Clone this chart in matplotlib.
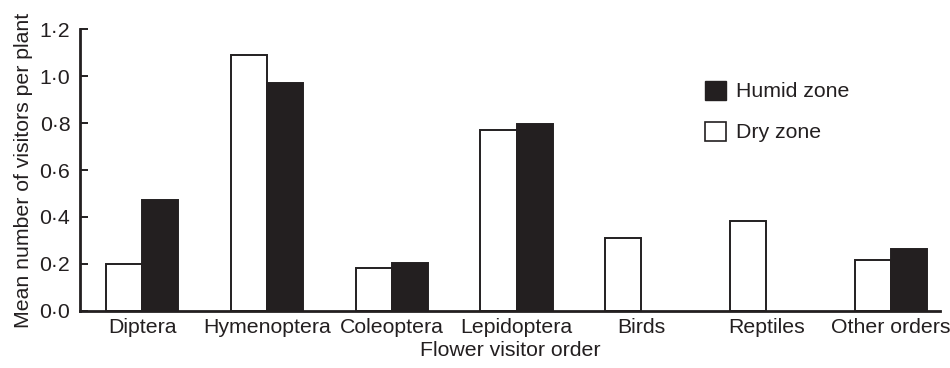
import matplotlib
matplotlib.use("Agg")
import matplotlib.pyplot as plt
from matplotlib.ticker import FuncFormatter, MultipleLocator
from matplotlib.patches import Patch
import numpy as np

categories = ["Diptera", "Hymenoptera", "Coleoptera", "Lepidoptera", "Birds", "Reptiles", "Other orders"]
dry_zone = [0.20, 1.09, 0.185, 0.77, 0.31, 0.383, 0.215]
humid_zone = [0.472, 0.972, 0.205, 0.795, 0.0, 0.0, 0.265]

plt.rcParams['font.family'] = ['Liberation Sans', 'DejaVu Sans']
ink = '#231f20'
fs = 15.3

fig = plt.figure(figsize=(9.5, 3.68), dpi=100)
ax = fig.add_axes([0.0842, 0.155, 0.905, 0.766])

x = np.arange(len(categories))
w = 0.29
for xi, d, h in zip(x, dry_zone, humid_zone):
    if d > 0:
        ax.bar(xi - w/2, d, w, facecolor='white', edgecolor=ink, linewidth=1.4)
    if h > 0:
        ax.bar(xi + w/2, h, w, facecolor=ink, edgecolor=ink, linewidth=1.4)

ax.set_xlim(-0.497, 6.39)
ax.set_ylim(0, 1.2)
ax.yaxis.set_major_locator(MultipleLocator(0.2))
ax.yaxis.set_major_formatter(FuncFormatter(lambda v, p: f"{v:.1f}".replace('.', '·')))
ax.set_xticks(x)
ax.set_xticklabels(categories)
ax.tick_params(axis='x', length=0, pad=5, labelsize=fs, colors=ink)
ax.tick_params(axis='y', length=6, width=1.4, pad=7, labelsize=fs, colors=ink, direction='in')
for s in ['top', 'right']:
    ax.spines[s].set_visible(False)
for s in ['left', 'bottom']:
    ax.spines[s].set_linewidth(2)
    ax.spines[s].set_color(ink)

ax.set_xlabel("Flower visitor order", fontsize=fs, color=ink, labelpad=3)
ax.set_ylabel("Mean number of visitors per plant", fontsize=fs, color=ink, labelpad=5)

handles = [Patch(facecolor=ink, edgecolor=ink, label='Humid zone'),
           Patch(facecolor='white', edgecolor=ink, linewidth=1.2, label='Dry zone')]
ax.legend(handles=handles, loc='upper left', bbox_to_anchor=(0.727, 0.817), frameon=False,
          borderpad=0, borderaxespad=0,
          fontsize=fs, handlelength=1.0, handleheight=1.0, handletextpad=0.45, labelspacing=0.95,
          labelcolor=ink)

fig.savefig("out.png", dpi=100)
